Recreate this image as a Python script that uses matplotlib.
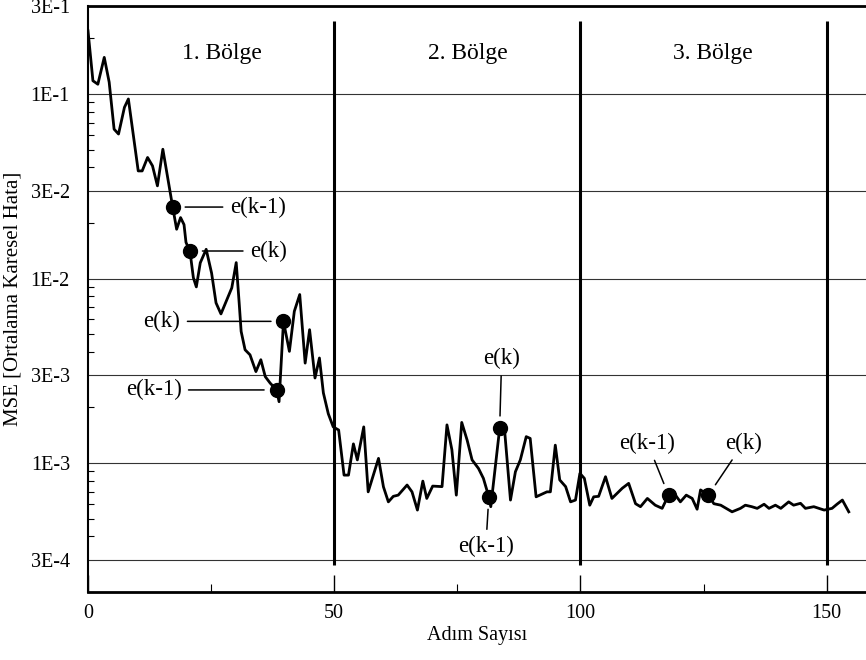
"""
MSE vs step count, three regions (Bölge) with e(k) / e(k-1) markers
"""

import matplotlib.pyplot as plt
from matplotlib.ticker import LogLocator, NullFormatter

# data
steps = [0, 1, 2, 3.3, 4.3, 5.3, 6.2, 7.4, 8.2, 10.2, 11, 12.1, 13.1, 14.1, 15.2,
         17.2, 18, 18.8, 19.5, 19.9, 20.7, 21.4, 22, 22.8, 24, 25.1, 26, 27, 28.2,
         29.2, 30.1, 30.7, 31.1, 31.9, 32.9, 34.1, 35.1, 36, 37, 38.3, 38.8, 39.7,
         40.9, 41.9, 43, 44.1, 45, 46.1, 47, 47.8, 48.8, 49.8, 50.9, 52, 52.9, 53.9,
         54.7, 56, 56.9, 59, 60, 61, 62, 63, 64.8, 65.8, 66.9, 68, 68.8, 70, 71.9,
         72.9, 73.9, 74.8, 75.9, 77, 78, 79.3, 80.3, 81.4, 81.8, 83.6, 84.6, 85.8,
         86.8, 87.8, 89, 89.8, 91, 93.2, 93.9, 94.9, 95.8, 97, 98, 99, 99.9, 100.8,
         101.9, 102.7, 103.7, 105.1, 106.4, 108.5, 109.8, 111.2, 112.2, 113.6, 115.2,
         116.6, 117.9, 119.3, 120.3, 121.5, 122.7, 123.7, 124.4, 126, 127.1, 128.5,
         130.8, 132.5, 133.5, 134.8, 135.9, 137.3, 138.3, 139.6, 140.7, 142.3, 143.3,
         144.7, 145.7, 147.4, 149.5, 151.1, 152.1, 153.2, 154.5]
mse = [0.22, 0.118, 0.113, 0.158, 0.116, 0.0645, 0.0607, 0.0847, 0.094, 0.0383,
       0.0383, 0.0453, 0.0408, 0.0318, 0.0502, 0.0244, 0.0185, 0.0214, 0.0196,
       0.0157, 0.0141, 0.0101, 0.00901, 0.01217, 0.0144, 0.0107, 0.00738, 0.00643,
       0.00769, 0.0089, 0.0122, 0.00738, 0.00517, 0.00411, 0.00386, 0.00313,
       0.00363, 0.00294, 0.00271, 0.00249, 0.00215, 0.00586, 0.00403, 0.00664,
       0.00819, 0.00348, 0.00528, 0.00289, 0.00371, 0.0024, 0.00185, 0.00157,
       0.00151, 0.00086, 0.00086, 0.00127, 0.00104, 0.00157, 0.000698, 0.00106,
       0.000743, 0.000616, 0.00066, 0.00067, 0.00076, 0.000698, 0.000556, 0.000798,
       0.000643, 0.00075, 0.000745, 0.00161, 0.00118, 0.00067, 0.00166, 0.00133,
       0.00104, 0.000935, 0.000826, 0.000656, 0.00058, 0.00154, 0.00151, 0.00063,
       0.000897, 0.00104, 0.00139, 0.00136, 0.000656, 0.000698, 0.000698, 0.00125,
       0.00081, 0.000745, 0.000616, 0.00063, 0.000879, 0.000826, 0.000591,
       0.000656, 0.00066, 0.000843, 0.000643, 0.00073, 0.000776, 0.000602, 0.00058,
       0.000643, 0.000591, 0.000568, 0.00067, 0.00067, 0.000616, 0.00067, 0.000643,
       0.000562, 0.000715, 0.00067, 0.000602, 0.000591, 0.000544, 0.000568,
       0.000591, 0.00058, 0.000568, 0.000598, 0.000568, 0.000591, 0.000568,
       0.000616, 0.000591, 0.000605, 0.000568, 0.00058, 0.000556, 0.000568,
       0.000598, 0.00063, 0.000544]

marker_steps = [17.2, 20.7, 38.3, 39.7, 81.4, 83.6, 117.9, 126]
marker_labels = ['e(k-1)', 'e(k)', 'e(k-1)', 'e(k)', 'e(k-1)', 'e(k)', 'e(k-1)', 'e(k)']

region_bounds = [50, 100, 150]
region_labels = ['1. Bölge', '2. Bölge', '3. Bölge']
region_centers = [27.2, 77.2, 127]

ytick_vals = [3e-4, 1e-3, 3e-3, 1e-2, 3e-2, 1e-1, 3e-1]
ytick_labels = ['3E-4', '1E-3', '3E-3', '1E-2', '3E-2', '1E-1', '3E-1']
xtick_vals = [0, 50, 100, 150]

# label placement (pixels from marker), alignment
label_offsets = [(57, 0, 'left'), (60, 0, 'left'), (-95, 0, 'right'), (-103, 0, 'right'),
                 (-3, -50, 'center'), (2, 70, 'center'), (-21, 52, 'center'),
                 (35, 52, 'center')]


def main():
    plt.rcParams['font.family'] = ['Liberation Serif', 'DejaVu Serif']
    fig = plt.figure(figsize=(8.66, 6.6), dpi=100)
    ax = fig.add_axes([88 / 866, 1 - 592 / 660, (866 - 88) / 866, (592 - 6) / 660])

    ax.set_yscale('log')
    ax.set_xlim(0, 158)
    ax.set_ylim(2e-4, 3e-1)

    ax.plot(steps, mse, color='black', lw=2, zorder=3)

    # markers and their leader lines
    for s, lab, (dx, dy, ha) in zip(marker_steps, marker_labels, label_offsets):
        v = mse[steps.index(s)]
        ax.plot([s], [v], 'o', color='black', ms=10, zorder=4)
        ax.annotate(lab, xy=(s, v), xytext=(dx, dy), textcoords='offset pixels',
                    ha=ha, va='center', fontsize=16.5,
                    arrowprops=dict(arrowstyle='-', color='black', lw=1.1,
                                    shrinkA=3, shrinkB=9))

    ax.vlines(region_bounds, 2.8e-4, 0.25, color='black', lw=2.2, zorder=2)
    for c, lab in zip(region_centers, region_labels):
        ax.text(c, 0.165, lab, ha='center', va='center', fontsize=17)

    ax.set_yticks(ytick_vals)
    ax.set_yticklabels(ytick_labels)
    ax.yaxis.set_minor_locator(LogLocator(base=10, subs=range(2, 10)))
    ax.yaxis.set_minor_formatter(NullFormatter())
    ax.set_xticks(xtick_vals)
    ax.set_xticks([25, 75, 125], minor=True)

    ax.tick_params(axis='both', which='both', direction='in', labelsize=14.5)
    ax.tick_params(axis='y', which='major', length=0, pad=13)
    ax.tick_params(axis='y', which='minor', length=4, width=0.8)
    ax.tick_params(axis='x', which='major', length=12, width=1, pad=9)
    ax.tick_params(axis='x', which='minor', length=6, width=0.8)

    ax.yaxis.grid(True, which='major', color='#333333', lw=0.8)
    ax.set_axisbelow(True)

    for side in ['top', 'bottom']:
        ax.spines[side].set_linewidth(2)
    ax.spines['left'].set_linewidth(1.5)
    ax.spines['right'].set_visible(False)

    ax.set_xlabel('Adım Sayısı', fontsize=14.5, labelpad=2)
    ax.set_ylabel('MSE [Ortalama Karesel Hata]', fontsize=15, labelpad=6)

    fig.savefig('out.png', dpi=100)


if __name__ == "__main__":
    main()
